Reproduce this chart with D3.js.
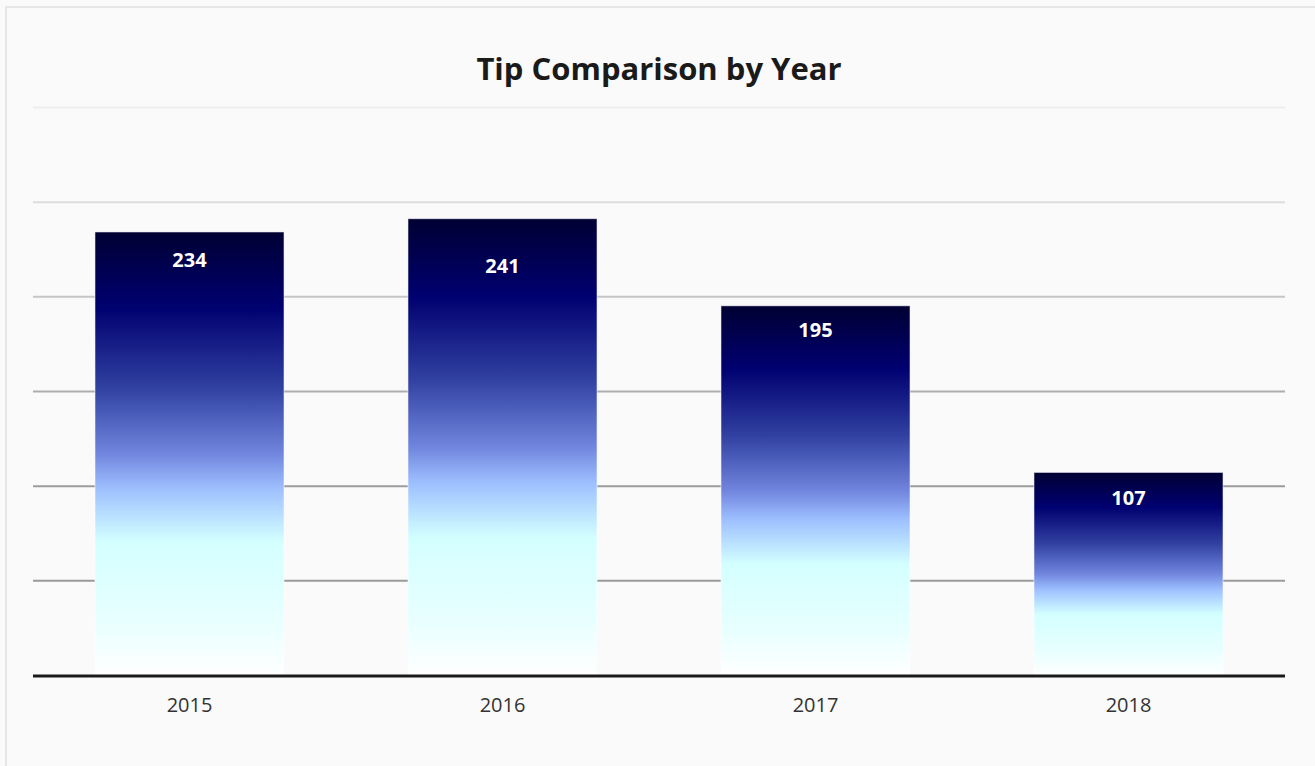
<!DOCTYPE html>
<html>
<head>
<meta charset="utf-8">
<script src="https://cdn.jsdelivr.net/npm/d3@7"></script>
<style>
  html, body { margin: 0; padding: 0; background: #fafafa; }
  svg { display: block; }
</style>
</head>
<body>
<svg id="chart" width="1315" height="766"></svg>
<script>
const years = ["2015", "2016", "2017", "2018"];
const tips = [234, 241, 195, 107];
const yTicks = [50, 100, 150, 200, 250, 300];
const title = "Tip Comparison by Year";
// label placement below each bar top (px), as in the original
const labelDy = [35, 54, 31, 33];

const W = 1315, H = 766;
const margin = { left: 33, right: 30, top: 107, bottom: 91 };
const svg = d3.select("#chart");

svg.append("rect").attr("x", 0).attr("y", 0).attr("width", W).attr("height", H).attr("fill", "#fafafa");
svg.append("rect").attr("x", 6).attr("y", 7).attr("width", W + 20).attr("height", H + 20)
  .attr("fill", "#fafafa").attr("stroke", "#e6e6e6").attr("stroke-width", 2);

const x = d3.scaleBand().domain(years)
  .range([margin.left, W - margin.right])
  .paddingInner(0.396).paddingOuter(0.198);
const y = d3.scaleLinear().domain([0, 300]).range([H - margin.bottom, margin.top]);

const defs = svg.append("defs");
const grad = defs.append("linearGradient").attr("id", "barGrad")
  .attr("x1", 0).attr("y1", 0).attr("x2", 0).attr("y2", 1);
[
  [0, "#000033"], [0.17, "#000070"], [0.35, "#3040a0"], [0.5, "#7085dd"],
  [0.58, "#9ec0ff"], [0.70, "#d4ffff"], [0.88, "#e8ffff"], [1, "#ffffff"]
].forEach(([o, c]) => grad.append("stop").attr("offset", o).attr("stop-color", c));

const gridColor = d3.scaleLinear().domain([50, 100, 150, 200, 250, 300])
  .range(["#9a9a9a", "#9c9c9c", "#adadad", "#c6c6c6", "#dcdcdc", "#eeeeee"]);
const yAxis = d3.axisLeft(y).tickValues(yTicks).tickSize(-(W - margin.right - margin.left)).tickFormat("");
const gy = svg.append("g").attr("transform", `translate(${margin.left},0)`).call(yAxis);
gy.select(".domain").remove();
gy.selectAll(".tick line").attr("stroke", d => gridColor(d)).attr("stroke-width", 2);

svg.append("g").selectAll("rect").data(years).join("rect")
  .attr("x", d => x(d))
  .attr("y", (d, i) => y(tips[i]))
  .attr("width", x.bandwidth())
  .attr("height", (d, i) => y(0) - y(tips[i]))
  .attr("fill", "url(#barGrad)")
  .attr("stroke", "rgba(255,255,255,0.55)")
  .attr("stroke-width", 1);

svg.append("g").selectAll("text").data(years).join("text")
  .attr("x", d => x(d) + x.bandwidth() / 2)
  .attr("y", (d, i) => y(tips[i]) + labelDy[i])
  .attr("text-anchor", "middle")
  .attr("fill", "#ffffff")
  .attr("font-family", "'Open Sans', sans-serif")
  .attr("font-weight", "bold")
  .attr("font-size", 20)
  .text((d, i) => tips[i]);

const xAxis = d3.axisBottom(x).tickSize(0).tickPadding(23);
const gx = svg.append("g").attr("transform", `translate(0,${y(0)})`).call(xAxis);
gx.select(".domain").remove();
gx.selectAll(".tick text").attr("font-family", "'Open Sans', sans-serif")
  .attr("font-size", 20).attr("fill", "#333333");
svg.append("line").attr("x1", margin.left).attr("x2", W - margin.right)
  .attr("y1", y(0) + 1).attr("y2", y(0) + 1)
  .attr("stroke", "#1a1a1a").attr("stroke-width", 3);

svg.append("text").attr("x", (margin.left + W - margin.right) / 2).attr("y", 80)
  .attr("text-anchor", "middle")
  .attr("font-family", "'Open Sans', sans-serif")
  .attr("font-weight", "bold").attr("font-size", 31).attr("fill", "#1a1a1a")
  .text(title);
</script>
</body>
</html>
